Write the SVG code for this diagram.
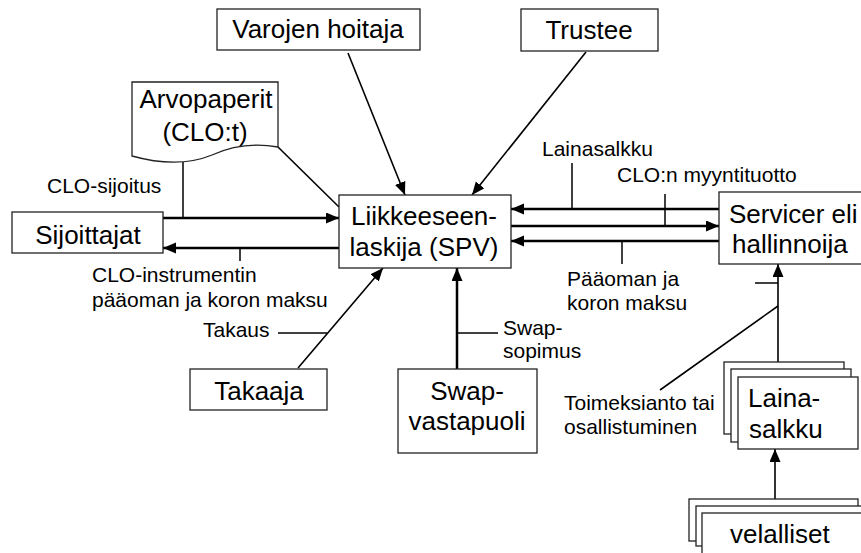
<svg xmlns="http://www.w3.org/2000/svg" width="861" height="553" viewBox="0 0 861 553">
  <defs>
    <marker id="arrow" markerUnits="userSpaceOnUse" markerWidth="14" markerHeight="12" refX="13" refY="5.5" orient="auto">
      <path d="M0,0 L13,5.5 L0,11 z" fill="#000"/>
    </marker>
    <style>
      .box { fill: #fff; stroke: #222; stroke-width: 1.3; }
      .node { font-family: "Liberation Sans", Arial, sans-serif; font-size: 26px; fill: #000; }
      .lbl { font-family: "Liberation Sans", Arial, sans-serif; font-size: 21px; fill: #000; }
      .flow { stroke: #000; stroke-width: 2.5; fill: none; }
      .link { stroke: #000; stroke-width: 1.6; fill: none; }
      .tick { stroke: #000; stroke-width: 1.5; fill: none; }
      .mid { text-anchor: middle; }
    </style>
  </defs>
  <rect width="861" height="553" fill="#fff"/>

  <!-- connectors -->
  <g id="connectors">
    <!-- Sijoittajat <-> SPV -->
    <line class="flow" x1="163" y1="218" x2="339" y2="218" marker-end="url(#arrow)"/>
    <line class="flow" x1="339" y1="248" x2="163" y2="248" marker-end="url(#arrow)"/>
    <line class="tick" x1="183" y1="162" x2="183" y2="218"/>
    <line class="tick" x1="240" y1="248" x2="240" y2="261"/>
    <line class="link" x1="278" y1="147" x2="339" y2="207"/>

    <!-- managers -> SPV -->
    <line class="link" x1="348" y1="53" x2="405" y2="195" marker-end="url(#arrow)"/>
    <line class="link" x1="586" y1="52" x2="472" y2="195" marker-end="url(#arrow)"/>

    <!-- SPV <-> Servicer -->
    <line class="flow" x1="719" y1="209" x2="511" y2="209" marker-end="url(#arrow)"/>
    <line class="flow" x1="511" y1="226" x2="719" y2="226" marker-end="url(#arrow)"/>
    <line class="flow" x1="719" y1="241" x2="511" y2="241" marker-end="url(#arrow)"/>
    <line class="tick" x1="572" y1="163" x2="572" y2="209"/>
    <line class="tick" x1="665" y1="194" x2="665" y2="226"/>
    <line class="tick" x1="622" y1="241" x2="622" y2="264"/>

    <!-- guarantor and swap -->
    <line class="link" x1="298" y1="368" x2="383" y2="268" marker-end="url(#arrow)"/>
    <line class="tick" x1="278" y1="333" x2="327" y2="333"/>
    <line class="flow" x1="457" y1="369" x2="457" y2="268" marker-end="url(#arrow)"/>
    <line class="tick" x1="457" y1="333" x2="498" y2="333"/>

    <!-- portfolio chain -->
    <line class="link" x1="778" y1="362" x2="778" y2="264" marker-end="url(#arrow)"/>
    <line class="tick" x1="755" y1="283" x2="778" y2="283"/>
    <line class="link" x1="778" y1="306" x2="660" y2="390"/>
    <line class="link" x1="775" y1="499" x2="775" y2="449" marker-end="url(#arrow)"/>
  </g>

  <!-- connector labels -->
  <g id="labels">
    <text class="lbl" x="47" y="193">CLO-sijoitus</text>
    <text class="lbl" x="92" y="282">CLO-instrumentin</text>
    <text class="lbl" x="92" y="307">pääoman ja koron maksu</text>
    <text class="lbl" x="542" y="156">Lainasalkku</text>
    <text class="lbl" x="617" y="182">CLO:n myyntituotto</text>
    <text class="lbl" x="567" y="286">Pääoman ja</text>
    <text class="lbl" x="567" y="310">koron maksu</text>
    <text class="lbl" x="203" y="337">Takaus</text>
    <text class="lbl" x="503" y="335">Swap-</text>
    <text class="lbl" x="503" y="358">sopimus</text>
    <text class="lbl" x="564" y="410">Toimeksianto tai</text>
    <text class="lbl" x="564" y="434">osallistuminen</text>
  </g>

  <!-- nodes -->
  <g id="varojen-hoitaja">
    <rect class="box" x="217" y="9" width="203" height="41"/>
    <text class="node mid" x="318" y="38">Varojen hoitaja</text>
  </g>

  <g id="trustee">
    <rect class="box" x="521" y="9" width="137" height="42"/>
    <text class="node mid" x="589" y="39">Trustee</text>
  </g>

  <g id="arvopaperit">
    <path class="box" d="M132,82 H278 V147 C255,143 232,146 212,155 C195,162 168,166 132,156 Z"/>
    <text class="node mid" x="206" y="108">Arvopaperit</text>
    <text class="node mid" x="205" y="141">(CLO:t)</text>
  </g>

  <g id="sijoittajat">
    <rect class="box" x="12" y="212" width="151" height="41"/>
    <text class="node mid" x="88" y="244">Sijoittajat</text>
  </g>

  <g id="spv">
    <rect class="box" x="339" y="195" width="172" height="73"/>
    <text class="node mid" x="424" y="225">Liikkeeseen-</text>
    <text class="node mid" x="424" y="256">laskija (SPV)</text>
  </g>

  <g id="servicer">
    <rect class="box" x="719" y="192" width="150" height="72"/>
    <text class="node" x="729" y="223">Servicer eli</text>
    <text class="node" x="732" y="253">hallinnoija</text>
  </g>

  <g id="takaaja">
    <rect class="box" x="190" y="369" width="137" height="41"/>
    <text class="node mid" x="259" y="400">Takaaja</text>
  </g>

  <g id="swap-vastapuoli">
    <rect class="box" x="398" y="369" width="139" height="84"/>
    <text class="node mid" x="467" y="400">Swap-</text>
    <text class="node mid" x="467" y="430">vastapuoli</text>
  </g>

  <g id="lainasalkku">
    <rect class="box" x="724" y="362" width="120" height="72"/>
    <rect class="box" x="731" y="369" width="120" height="73"/>
    <rect class="box" x="738" y="377" width="120" height="72"/>
    <text class="node" x="748" y="407">Laina-</text>
    <text class="node" x="749" y="438">salkku</text>
  </g>

  <g id="velalliset">
    <rect class="box" x="689" y="499" width="169" height="42"/>
    <rect class="box" x="696" y="506" width="175" height="40"/>
    <rect class="box" x="702" y="513" width="175" height="45"/>
    <text class="node" x="730" y="543">velalliset</text>
  </g>
</svg>
